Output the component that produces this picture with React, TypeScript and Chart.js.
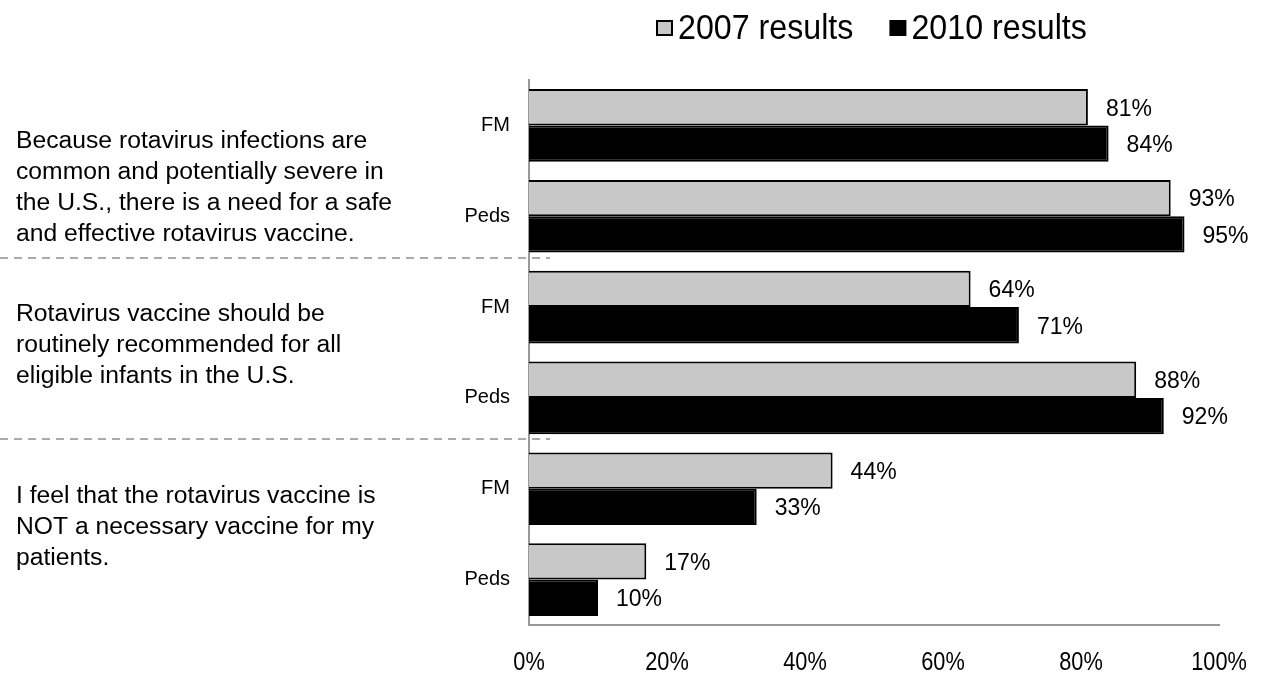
import React, { useEffect, useRef } from "react";
import { Chart, registerables } from "chart.js";

Chart.register(...registerables);

const categories = ["FM", "Peds", "FM", "Peds", "FM", "Peds"];
const series2007 = [81, 93, 64, 88, 44, 17];
const series2010 = [84, 95, 71, 92, 33, 10];
const seriesNames = ["2007 results", "2010 results"];
const xTicks = [0, 20, 40, 60, 80, 100];
const statements = [
  [
    "Because rotavirus infections are",
    "common and potentially severe in",
    "the U.S., there is a need for a safe",
    "and effective rotavirus vaccine.",
  ],
  [
    "Rotavirus vaccine should be",
    "routinely recommended for all",
    "eligible infants in the U.S.",
  ],
  [
    "I feel that the rotavirus vaccine is",
    "NOT a necessary vaccine for my",
    "patients.",
  ],
];

const STATEMENT_OFFSETS = [17, -7, -7];
const SANS = '"Liberation Sans", Arial, sans-serif';
const TICK_SCALE = 0.82;
const LEGEND_SCALE = 0.92;
const GRAY = "#c8c8c8";

function drawScaled(ctx: any, text: string, x: number, y: number, size: number, align: string, sx: number) {
  ctx.save();
  ctx.font = `${size}px ${SANS}`;
  ctx.textBaseline = "middle";
  ctx.textAlign = align;
  ctx.translate(x, y);
  ctx.scale(sx, 1);
  ctx.fillText(text, 0, 0);
  ctx.restore();
}

const overlayPlugin = {
  id: "overlay",
  afterDatasetsDraw(chart: any) {
    const ctx = chart.ctx;
    ctx.save();
    ctx.font = `23px ${SANS}`;
    ctx.fillStyle = "#000";
    ctx.textAlign = "left";
    ctx.textBaseline = "middle";
    chart.data.datasets.forEach((ds: any, di: number) => {
      const meta = chart.getDatasetMeta(di);
      meta.data.forEach((bar: any, i: number) => {
        ctx.fillText(`${ds.data[i]}%`, bar.x + 18, bar.y + 2);
      });
    });
    ctx.restore();
  },
  afterDraw(chart: any) {
    const ctx = chart.ctx;
    const y = chart.scales.y;
    const x = chart.scales.x;
    ctx.save();
    // dashed separators
    ctx.strokeStyle = "#aaaaaa";
    ctx.lineWidth = 2;
    ctx.setLineDash([8, 6]);
    [1.5, 3.5].forEach((v) => {
      const py = Math.round(y.getPixelForValue(v)) - 4;
      ctx.beginPath();
      ctx.moveTo(0, py);
      ctx.lineTo(550, py);
      ctx.stroke();
    });
    ctx.setLineDash([]);
    // statements
    ctx.font = `24.7px ${SANS}`;
    ctx.fillStyle = "#000";
    ctx.textAlign = "left";
    ctx.textBaseline = "middle";
    const lh = 31;
    statements.forEach((lines, si) => {
      const cy = y.getPixelForValue(si * 2 + 0.5) + STATEMENT_OFFSETS[si];
      const start = cy - ((lines.length - 1) * lh) / 2;
      lines.forEach((ln, li) => ctx.fillText(ln, 16, start + li * lh));
    });
    // x tick labels
    ctx.fillStyle = "#000";
    xTicks.forEach((v) => {
      drawScaled(ctx, `${v}%`, x.getPixelForValue(v), 663, 26.5, "center", TICK_SCALE);
    });
    // legend
    const legendSize = 35;
    const boxW = 15;
    const boxH = 14;
    let lx = 657;
    const ly = 28;
    [GRAY, "#000"].forEach((fill, i) => {
      ctx.fillStyle = fill;
      ctx.fillRect(lx, ly - boxH / 2, boxW, boxH);
      ctx.strokeStyle = "#000";
      ctx.lineWidth = 2;
      ctx.strokeRect(lx, ly - boxH / 2, boxW, boxH);
      ctx.fillStyle = "#000";
      ctx.font = `${legendSize}px ${SANS}`;
      const w = ctx.measureText(seriesNames[i]).width * LEGEND_SCALE;
      drawScaled(ctx, seriesNames[i], lx + boxW + 6, ly + 1, legendSize, "left", LEGEND_SCALE);
      lx += boxW + 6 + w + 37;
    });
    ctx.restore();
  },
};

export default function App() {
  const ref = useRef<HTMLCanvasElement | null>(null);
  useEffect(() => {
    if (!ref.current) return;
    const chart = new Chart(ref.current, {
      type: "bar",
      data: {
        labels: categories,
        datasets: [
          {
            label: seriesNames[0],
            data: series2007,
            backgroundColor: GRAY,
            borderColor: "#000",
            borderWidth: 2,
          },
          {
            label: seriesNames[1],
            data: series2010,
            backgroundColor: "#000",
            borderColor: "#000",
            borderWidth: 2,
          },
        ],
      },
      options: {
        indexAxis: "y",
        animation: false,
        responsive: true,
        maintainAspectRatio: false,
        datasets: { bar: { categoryPercentage: 0.8, barPercentage: 1.0 } },
        layout: { padding: { top: 80, right: 43, left: 0, bottom: 0 } },
        plugins: { legend: { display: false }, tooltip: { enabled: false } },
        scales: {
          x: {
            min: 0,
            max: 100,
            afterBuildTicks: (s: any) => {
              s.ticks = xTicks.map((v) => ({ value: v }));
            },
            afterFit: (s: any) => {
              s.height = 48;
              s.paddingLeft = 0;
              s.paddingRight = 0;
            },
            ticks: { display: false },
            grid: { display: false, drawTicks: false },
            border: { color: "#999999", width: 2 },
          },
          y: {
            afterFit: (s: any) => {
              s.width = 529;
            },
            ticks: {
              font: { family: SANS, size: 20 },
              color: "#000",
              padding: 19,
            },
            grid: { display: false, drawTicks: false },
            border: { color: "#999999", width: 2 },
          },
        },
      },
      plugins: [overlayPlugin],
    });
    return () => chart.destroy();
  }, []);
  return (
    <div style={{ position: "absolute", left: 0, top: 0, width: 1262, height: 673, background: "#fff" }}>
      <canvas ref={ref} />
    </div>
  );
}
